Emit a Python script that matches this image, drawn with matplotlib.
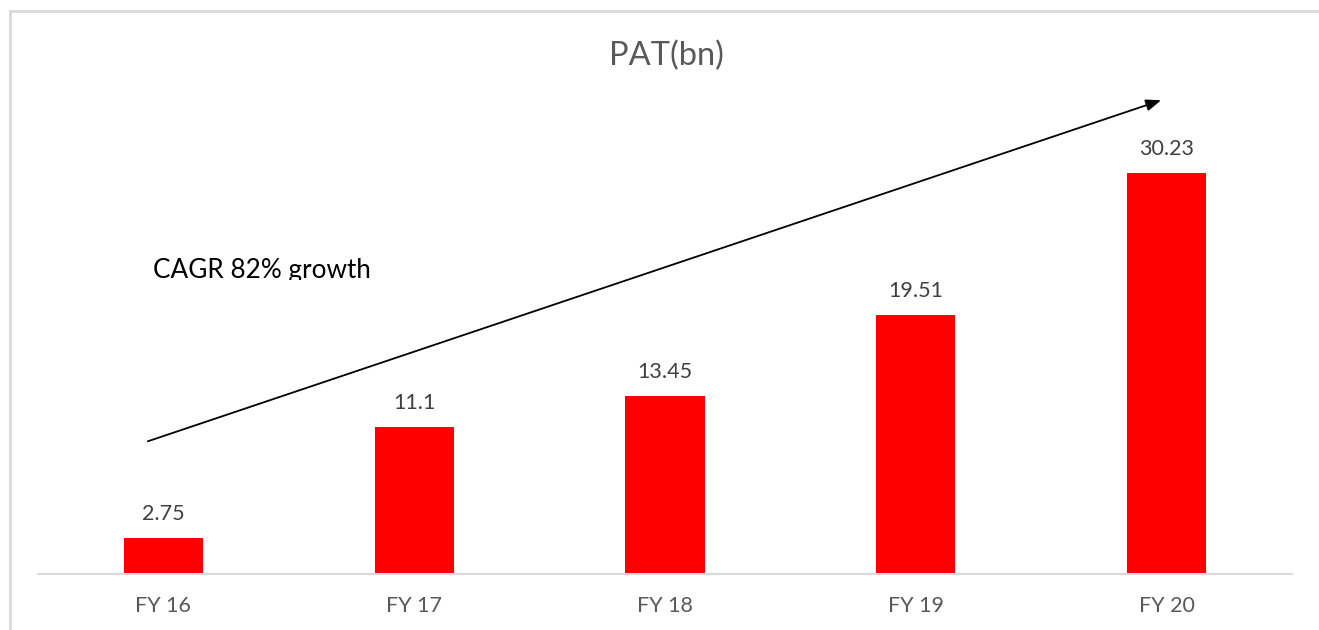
import matplotlib.pyplot as plt
from matplotlib.patches import Rectangle
from matplotlib.transforms import Bbox

years = ['FY 16', 'FY 17', 'FY 18', 'FY 19', 'FY 20']
pat = [2.75, 11.1, 13.45, 19.51, 30.23]
labels = ['2.75', '11.1', '13.45', '19.51', '30.23']

plt.rcParams['font.family'] = ['Lato', 'DejaVu Sans']

W, H = 1319, 630
fig = plt.figure(figsize=(W / 100, H / 100), dpi=100)

# outer light grey frame (runs off the right and bottom edges)
fig.patches.append(Rectangle((9.5 / W, -0.2), 1.2, 1.2 - 10.5 / H,
                             transform=fig.transFigure, fill=False,
                             edgecolor='#d9d9d9', linewidth=2))

ax = fig.add_axes([38 / W, (H - 574) / H, (1292 - 38) / W, (574 - 60) / H])
ax.bar(range(len(years)), pat, width=0.315, color='#ff0000')
ax.set_xlim(-0.5, 4.5)
ax.set_ylim(0, 514 / 13.27)

for i, (v, t) in enumerate(zip(pat, labels)):
    ax.annotate(t, (i, v), xytext=(0, 10), textcoords='offset points',
                ha='center', va='bottom', fontsize=15.5, color='#404040')

ax.set_xticks(range(len(years)))
ax.set_xticklabels(years, fontsize=15.5, color='#595959')
ax.tick_params(axis='x', length=0, pad=16)
ax.set_yticks([])
for s in ['top', 'right', 'left']:
    ax.spines[s].set_visible(False)
ax.spines['bottom'].set_color('#d9d9d9')
ax.spines['bottom'].set_linewidth(1.5)

fig.text(666 / W, 1 - 56 / H, 'PAT(bn)', ha='center', va='center',
         fontsize=23.5, color='#595959')

# growth arrow
ax.annotate('', xy=(3.978, 35.7), xytext=(-0.062, 10.0),
            arrowprops=dict(arrowstyle='-|>,head_length=0.9,head_width=0.35',
                            color='black', lw=1.3, shrinkA=0, shrinkB=0))

txt = fig.text(153 / W, 1 - 278 / H, 'CAGR 82% growth', ha='left',
               va='baseline', fontsize=18.8, color='black')
txt.set_clip_box(Bbox.from_extents(0, H - 280, W, H))
txt.set_clip_on(True)

fig.savefig('out.png', dpi=100)
